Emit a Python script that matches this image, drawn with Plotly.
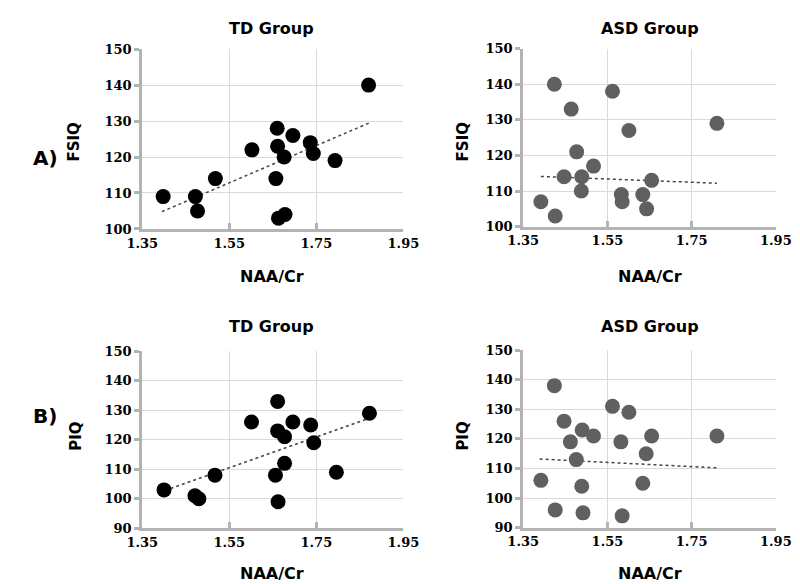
import plotly.graph_objects as go
from plotly.subplots import make_subplots

# NAA/Cr vs IQ
td_fsiq_x = [1.398, 1.472, 1.477, 1.518, 1.602, 1.660, 1.661, 1.696, 1.676, 1.657, 1.663, 1.678, 1.736, 1.743, 1.793, 1.870]
td_fsiq_y = [109, 109, 105, 114, 122, 128, 123, 126, 120, 114, 103, 104, 124, 121, 119, 140]

asd_fsiq_x = [1.424, 1.562, 1.464, 1.601, 1.810, 1.477, 1.517, 1.447, 1.489, 1.488, 1.655, 1.583, 1.585, 1.634, 1.643, 1.392, 1.426]
asd_fsiq_y = [140, 138, 133, 127, 129, 121, 117, 114, 114, 110, 113, 109, 107, 109, 105, 107, 103]

td_piq_x = [1.400, 1.471, 1.480, 1.517, 1.601, 1.661, 1.661, 1.677, 1.696, 1.677, 1.656, 1.662, 1.737, 1.744, 1.796, 1.872]
td_piq_y = [103, 101, 100, 108, 126, 133, 123, 121, 126, 112, 108, 99, 125, 119, 109, 129]

asd_piq_x = [1.424, 1.447, 1.562, 1.601, 1.490, 1.517, 1.462, 1.582, 1.655, 1.810, 1.642, 1.476, 1.392, 1.489, 1.634, 1.426, 1.492, 1.585]
asd_piq_y = [138, 126, 131, 129, 123, 121, 119, 119, 121, 121, 115, 113, 106, 104, 105, 96, 95, 94]

# trendline end points as drawn in the original
td_fsiq_trend_x = [1.395, 1.872]
td_fsiq_trend_y = [104.8, 129.5]
asd_fsiq_trend_x = [1.392, 1.810]
asd_fsiq_trend_y = [114.1, 112.2]
td_piq_trend_x = [1.402, 1.870]
td_piq_trend_y = [102.8, 127.2]
asd_piq_trend_x = [1.389, 1.812]
asd_piq_trend_y = [113.2, 110.2]

x_ticks = [1.35, 1.55, 1.75, 1.95]

panels = [
    (td_fsiq_x, td_fsiq_y, td_fsiq_trend_x, td_fsiq_trend_y, "black", 1, 1, [100, 150]),
    (asd_fsiq_x, asd_fsiq_y, asd_fsiq_trend_x, asd_fsiq_trend_y, "#606060", 1, 2, [100, 150]),
    (td_piq_x, td_piq_y, td_piq_trend_x, td_piq_trend_y, "black", 2, 1, [90, 150]),
    (asd_piq_x, asd_piq_y, asd_piq_trend_x, asd_piq_trend_y, "#606060", 2, 2, [90, 150]),
]

fig = make_subplots(rows=2, cols=2)

for xs, ys, tx, ty, col, r, c, yr in panels:
    fig.add_trace(go.Scatter(x=tx, y=ty, mode="lines",
                             line=dict(color="#444444", width=1.5, dash="dot"),
                             showlegend=False), row=r, col=c)
    fig.add_trace(go.Scatter(x=xs, y=ys, mode="markers",
                             marker=dict(size=15, color=col, line=dict(width=0)),
                             showlegend=False), row=r, col=c)
    fig.update_xaxes(range=[1.35, 1.95], tickvals=x_ticks, ticktext=["1.35", "1.55", "1.75", "1.95"],
                     showgrid=True, gridcolor="#dadada", gridwidth=1,
                     showline=True, linecolor="#b3b3b3", linewidth=3,
                     ticks="inside", ticklen=6, tickwidth=3, tickcolor="#b3b3b3",
                     zeroline=False, row=r, col=c)
    fig.update_yaxes(range=yr, dtick=10,
                     showgrid=True, gridcolor="#dadada", gridwidth=1,
                     showline=True, linecolor="#b3b3b3", linewidth=3,
                     ticks="outside", ticklen=5, tickwidth=3, tickcolor="#b3b3b3",
                     zeroline=False, row=r, col=c)

serif = dict(family="DejaVu Serif, Liberation Serif, serif", size=13, color="black", weight="bold")
fig.update_xaxes(tickfont=serif)
fig.update_yaxes(tickfont=serif)

# pixel-matched domains
fig.update_layout(
    xaxis=dict(domain=[0.154, 0.494]), xaxis2=dict(domain=[0.650, 0.979]),
    xaxis3=dict(domain=[0.154, 0.494]), xaxis4=dict(domain=[0.650, 0.979]),
    yaxis=dict(domain=[0.624, 0.940]), yaxis2=dict(domain=[0.628, 0.941]),
    yaxis3=dict(domain=[0.098, 0.409]), yaxis4=dict(domain=[0.099, 0.411]),
)

sans = "DejaVu Sans"
def txt(s, x, y, size, angle=0):
    fig.add_annotation(text="<b>" + s + "</b>", x=x / 800, y=1 - y / 584, xref="paper", yref="paper",
                       showarrow=False, textangle=angle, xanchor="center", yanchor="middle",
                       font=dict(family=sans, size=size, color="black"))

txt("TD Group", 258, 14, 16)
txt("ASD Group", 652, 14, 16)
txt("TD Group", 258, 320, 16)
txt("ASD Group", 652, 320, 16)
txt("NAA/Cr", 258, 268, 16)
txt("NAA/Cr", 652, 268, 16)
txt("NAA/Cr", 258, 573, 16)
txt("NAA/Cr", 652, 573, 16)
txt("FSIQ", 52, 130, 15, -90)
txt("FSIQ", 457, 130, 15, -90)
txt("PIQ", 54, 432, 15, -90)
txt("PIQ", 457, 432, 15, -90)
txt("A)", 22, 147, 20)
txt("B)", 22, 412, 20)

fig.update_layout(width=800, height=584, margin=dict(l=0, r=0, t=0, b=0),
                  plot_bgcolor="white", paper_bgcolor="white")

fig.write_html("out.html")
